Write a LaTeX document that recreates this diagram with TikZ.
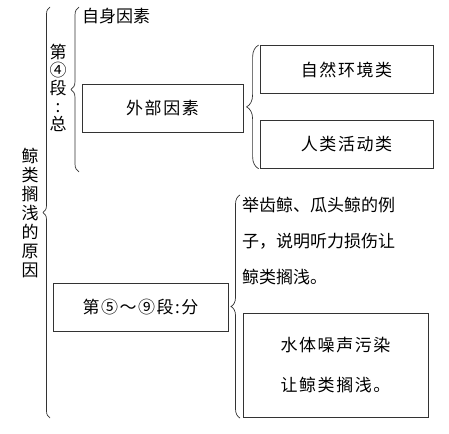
\documentclass[tikz,border=0pt]{standalone}
\usepackage{fontspec}
\setmainfont{Noto Sans CJK SC}
\usetikzlibrary{positioning, decorations.pathreplacing}

\begin{document}
\begin{tikzpicture}[x=1pt, y=-1pt,
        box/.style={rectangle, draw=black!80, line width=0.8pt, minimum width=#1, minimum height=48pt, inner sep=0pt, font=\fontsize{17}{19}\selectfont\addfontfeature{LetterSpace=9}},
        curly/.style={draw=black!80, line width=0.7pt, decorate, decoration={brace, amplitude=#1}},
        vtext/.style={align=center, inner sep=0pt, font=\fontsize{17}{#1}\selectfont}
    ]
    \useasboundingbox (0,0) rectangle (449,433);

    % Nodes - titles on the left
    \node[vtext=19pt] (whole) at (30,213) {鲸\\类\\搁\\浅\\的\\原\\因};
    \node[vtext=18pt] (total) at (58,88) {第\\④\\段\\:\\总};

    % Nodes - upper part
    \node[anchor=west, inner sep=0pt, font=\fontsize{17}{19}\selectfont] (self) at (82,16) {自身因素};
    \node[box=161pt] (outer) at (162.5,108) {外部因素};
    \node[box=173pt] (natural) at (346.5,69.5) {自然环境类};
    \node[box=173pt, below=26pt of natural] (human) {人类活动类};

    % Nodes - lower part
    \node[box=175pt] (part) at (140.5,307.5) {第⑤～⑨段:分};
    \node[anchor=north west, align=left, inner sep=0pt, font=\fontsize{17}{36}\selectfont] (example) at (242,197) {举齿鲸、瓜头鲸的例\\子，说明听力损伤让\\鲸类搁浅。};
    \node[box=185pt, minimum height=104pt, align=center, font=\fontsize{17}{40}\selectfont\addfontfeature{LetterSpace=9}] (noise) at (335.5,365) {水体噪声污染\\让鲸类搁浅。};

    % Brace ends
    \coordinate (wholetop) at (50,7);
    \coordinate (wholebot) at (50,418);
    \coordinate (totaltop) at (79,7);
    \coordinate (totalbot) at (79,172);
    \coordinate (parttop) at (240,195);
    \coordinate (partbot) at (240,418);

    % Braces
    \draw[curly=7pt] (wholebot) -- (wholetop);
    \draw[curly=8pt] (totalbot) -- (totaltop);
    \draw[curly=12pt] ([xshift=-1pt]human.south west) -- ([xshift=-1pt]natural.north west);
    \draw[curly=9pt] (partbot) -- (parttop);

\end{tikzpicture}
\end{document}
